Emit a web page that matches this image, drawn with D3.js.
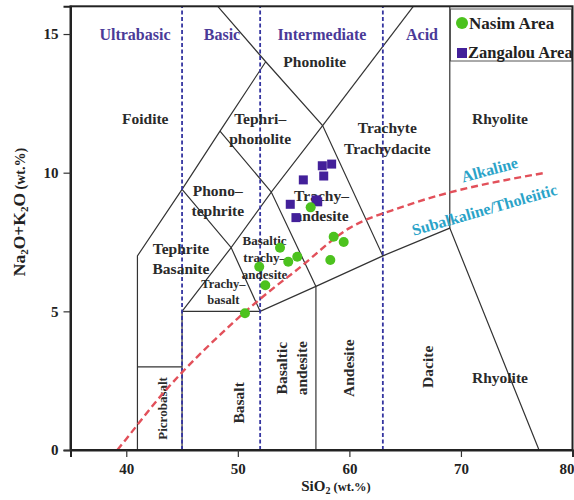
<!DOCTYPE html>
<html>
<head>
<meta charset="utf-8">
<script src="https://cdn.jsdelivr.net/npm/d3@7/dist/d3.min.js"></script>
<style>
  html, body { margin: 0; padding: 0; background: #fff; }
  svg { display: block; font-family: "Liberation Serif", "Times New Roman", serif; font-weight: bold; }
</style>
</head>
<body>
<svg id="chart" width="574" height="500"></svg>
<script>
// ---- Samples (SiO2 wt.%, Na2O+K2O wt.%) ----
const nasimSiO2   = [56.53, 58.59, 59.49, 53.78, 55.33, 54.52, 58.29, 51.92, 52.46, 50.64];
const nasimAlk    = [ 8.75,  7.69,  7.50,  7.29,  6.97,  6.79,  6.85,  6.61,  5.94,  4.93];
const zangalouSiO2 = [58.41, 57.57, 57.70, 55.87, 57.01, 57.16, 54.70, 55.21];
const zangalouAlk  = [10.31, 10.25,  9.88,  9.74,  9.02,  8.95,  8.86,  8.38];

// ---- Axis ticks ----
const xTicks = [40, 50, 60, 70, 80];
const yTicks = [0, 5, 10, 15];

// ---- TAS field boundaries (Le Bas et al., 1986) ----
const tasBoundaries = [
  [[41, 0], [41, 7], [45, 9.4], [48.4, 11.5], [52.5, 14]],
  [[48.2, 16], [52.5, 14], [57.6, 11.7], [63, 7]],
  [[57.6, 11.7], [65.73, 16]],
  [[41, 3], [45, 3]],
  [[45, 0], [45, 5], [52, 5], [57, 5.9], [63, 7], [69, 8], [77, 0]],
  [[57, 0], [57, 5.9]],
  [[69, 8], [69, 16]],
  [[45, 5], [49.4, 7.3], [52, 5]],
  [[45, 9.4], [49.4, 7.3], [53, 9.3], [57, 5.9]],
  [[48.4, 11.5], [53, 9.3], [57.6, 11.7]]
];

// Silica-saturation class limits
const silicaLimits = [45, 52, 63];
const silicaClasses = [
  {name: "Ultrabasic", x: 135},
  {name: "Basic", x: 222},
  {name: "Intermediate", x: 322},
  {name: "Acid", x: 422}
];

// Alkaline / subalkaline divide (Irvine & Baragar, 1971)
const divideSiO2 = [39.2, 40, 43.2, 45, 48, 50, 53.7, 55, 60, 65, 77.6];
const divideAlk  = [0, 0.4, 2, 2.8, 4, 4.75, 6, 6.4, 8, 8.8, 10];

// Field names: [text lines, SiO2, Na2O+K2O, size, rotated]
const fieldLabels = [
  [["Foidite"], 41.7, 11.95, 15.5, false],
  [["Phonolite"], 56.9, 14.0, 15.5, false],
  [["Tephri\u2013", "phonolite"], 52.0, 11.6, 15.5, false],
  [["Trachyte", "Trachydacite"], 63.4, 11.25, 15.5, false],
  [["Rhyolite"], 73.5, 11.95, 15.5, false],
  [["Rhyolite"], 73.5, 2.6, 15.5, false],
  [["Phono\u2013", "tephrite"], 48.2, 9.0, 15.5, false],
  [["Trachy\u2013", "andesite"], 57.5, 8.8, 15.5, false],
  [["Tephrite", "Basanite"], 44.9, 6.9, 15.5, false],
  [["Basaltic", "trachy\u2013", "andesite"], 52.4, 6.95, 13, false],
  [["Trachy\u2013", "basalt"], 48.7, 5.7, 12.5, false],
  [["Picrobasalt"], 43.2, 1.5, 13, true],
  [["Basalt"], 50.1, 1.7, 15.5, true],
  [["Basaltic", "andesite"], 54.8, 2.95, 15.5, true],
  [["Andesite"], 59.9, 2.95, 15.5, true],
  [["Dacite"], 67.0, 3.0, 15.5, true]
];

const svg = d3.select("#chart");
const x = d3.scaleLinear().domain([35, 80]).range([70.5, 572.5]);
const y = d3.scaleLinear().domain([0, 16]).range([450, 6.3]);

const line = d3.line().x(d => x(d[0])).y(d => y(d[1]));

// Field boundaries
svg.append("g")
  .selectAll("path")
  .data(tasBoundaries)
  .join("path")
  .attr("d", line)
  .attr("fill", "none")
  .attr("stroke", "#333")
  .attr("stroke-width", 1.2);

// Silica class dividers
svg.append("g")
  .selectAll("line")
  .data(silicaLimits)
  .join("line")
  .attr("x1", d => x(d)).attr("x2", d => x(d))
  .attr("y1", y(0)).attr("y2", y(16))
  .attr("stroke", "#3535a0")
  .attr("stroke-width", 1.8)
  .attr("stroke-dasharray", "4,2.5");

svg.append("g")
  .selectAll("text")
  .data(silicaClasses)
  .join("text")
  .attr("x", d => d.x)
  .attr("y", 40)
  .attr("text-anchor", "middle")
  .attr("font-size", 16)
  .attr("fill", "#4a3a98")
  .text(d => d.name);

// Field names
const fl = svg.append("g").attr("fill", "#2a2a2a");
fieldLabels.forEach(([lines, sx, sy, size, rot]) => {
  const px = x(sx), py = y(sy);
  const lh = size * 1.3;
  const t = fl.append("text")
    .attr("font-size", size)
    .attr("text-anchor", "middle")
    .attr("transform", rot ? `translate(${px},${py}) rotate(-90)` : `translate(${px},${py})`);
  lines.forEach((s, i) => {
    t.append("tspan")
      .attr("x", 0)
      .attr("y", (i - (lines.length - 1) / 2) * lh + size * 0.35)
      .text(s);
  });
});

// Alkaline / subalkaline divide
svg.append("path")
  .datum(divideSiO2.map((s, i) => [s, divideAlk[i]]))
  .attr("d", line.curve(d3.curveMonotoneX))
  .attr("fill", "none")
  .attr("stroke", "#e2505a")
  .attr("stroke-width", 2.4)
  .attr("stroke-dasharray", "7,4");
line.curve(d3.curveLinear);

svg.append("text")
  .attr("transform", "translate(491,175) rotate(-15)")
  .attr("text-anchor", "middle")
  .attr("font-size", 16)
  .attr("fill", "#2aa3c8")
  .text("Alkaline");
svg.append("text")
  .attr("transform", "translate(486,215) rotate(-16)")
  .attr("text-anchor", "middle")
  .attr("font-size", 16)
  .attr("fill", "#2aa3c8")
  .text("Subalkaline/Tholeiitic");

// Samples
svg.append("g")
  .selectAll("rect")
  .data(zangalouSiO2.map((s, i) => [s, zangalouAlk[i]]))
  .join("rect")
  .attr("x", d => x(d[0]) - 4.5)
  .attr("y", d => y(d[1]) - 4.5)
  .attr("width", 9).attr("height", 9)
  .attr("fill", "#43209a");

svg.append("g")
  .selectAll("circle")
  .data(nasimSiO2.map((s, i) => [s, nasimAlk[i]]))
  .join("circle")
  .attr("cx", d => x(d[0]))
  .attr("cy", d => y(d[1]))
  .attr("r", 5)
  .attr("fill", "#4cc21e");

// Frame and axes
svg.append("rect")
  .attr("x", x(35)).attr("y", y(16))
  .attr("width", x(80) - x(35)).attr("height", y(0) - y(16))
  .attr("fill", "none").attr("stroke", "#222").attr("stroke-width", 2);

const xAxis = svg.append("g")
  .attr("transform", `translate(0,${y(0)})`)
  .call(d3.axisBottom(x).tickValues(xTicks).tickSize(7).tickPadding(6));
const yAxis = svg.append("g")
  .attr("transform", `translate(${x(35)},0)`)
  .call(d3.axisLeft(y).tickValues(yTicks).tickSize(7).tickPadding(5));
[xAxis, yAxis].forEach(g => {
  g.select(".domain").attr("stroke", "#222").attr("stroke-width", 2);
  g.selectAll(".tick line").attr("stroke", "#333").attr("stroke-width", 1.2);
  g.selectAll(".tick text")
    .attr("font-family", "Liberation Serif, Times New Roman, serif")
    .attr("font-weight", "bold")
    .attr("font-size", 15)
    .attr("fill", "#222");
});
// keep the last x label inside the page
xAxis.selectAll(".tick text").filter(d => d === 80)
  .attr("text-anchor", "end").attr("x", 1.5);

// Axis titles
const xt = svg.append("text")
  .attr("x", 336).attr("y", 491)
  .attr("text-anchor", "middle")
  .attr("fill", "#222")
  .attr("font-size", 15);
xt.append("tspan").text("SiO");
xt.append("tspan").attr("font-size", 10).attr("dy", 3).text("2");
xt.append("tspan").attr("font-size", 12.5).attr("dy", -3).text(" (wt.%)");

const yt = svg.append("text")
  .attr("transform", "translate(25,212) rotate(-90)")
  .attr("text-anchor", "middle")
  .attr("fill", "#222")
  .attr("font-size", 17.5);
yt.append("tspan").text("Na");
yt.append("tspan").attr("font-size", 11).attr("dy", 3).text("2");
yt.append("tspan").attr("dy", -3).text("O+K");
yt.append("tspan").attr("font-size", 11).attr("dy", 3).text("2");
yt.append("tspan").attr("dy", -3).text("O");
yt.append("tspan").attr("font-size", 14).text(" (wt.%)");

// Legend
const lg = svg.append("g");
lg.append("rect")
  .attr("x", 450.5).attr("y", 9).attr("width", 121).attr("height", 52)
  .attr("fill", "#fff").attr("stroke", "#555").attr("stroke-width", 1);
lg.append("circle").attr("cx", 462).attr("cy", 23).attr("r", 6).attr("fill", "#4cc21e");
lg.append("text").attr("x", 469).attr("y", 28.5).attr("font-size", 17).attr("fill", "#222").text("Nasim Area");
lg.append("rect").attr("x", 457).attr("y", 48).attr("width", 10).attr("height", 10).attr("fill", "#43209a");
lg.append("text").attr("x", 468).attr("y", 57.5).attr("font-size", 16.5).attr("fill", "#222").text("Zangalou Area");
</script>
</body>
</html>
